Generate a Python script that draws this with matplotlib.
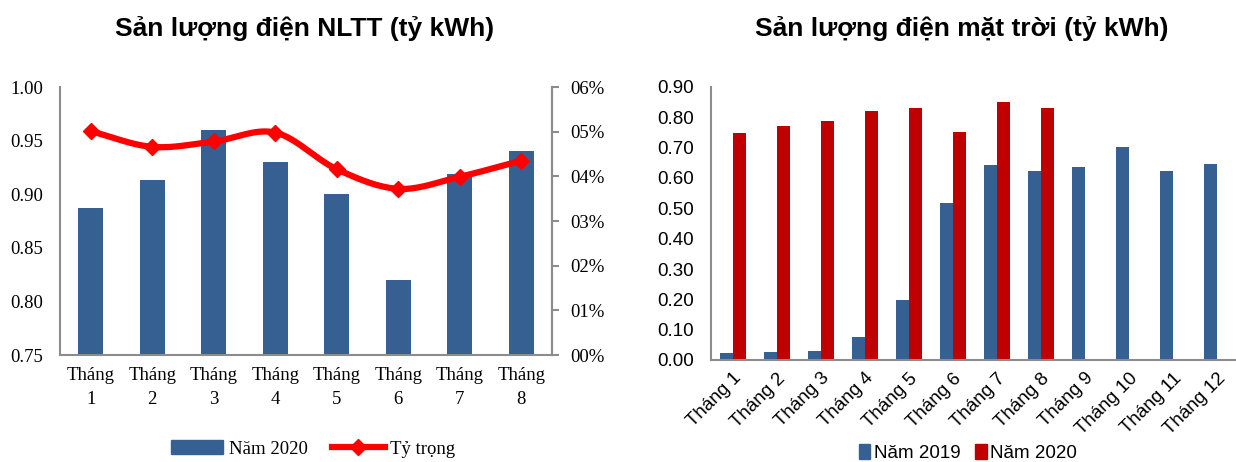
import numpy as np
import matplotlib.pyplot as plt
from matplotlib.lines import Line2D
from matplotlib.patches import Patch

# data
thang_8 = ['Tháng\n1', 'Tháng\n2', 'Tháng\n3', 'Tháng\n4', 'Tháng\n5', 'Tháng\n6', 'Tháng\n7', 'Tháng\n8']
nltt_2020 = [0.887, 0.913, 0.960, 0.930, 0.900, 0.820, 0.919, 0.940]
ty_trong = [5.01, 4.66, 4.78, 4.98, 4.16, 3.72, 3.99, 4.35]

thang_12 = ['Tháng 1', 'Tháng 2', 'Tháng 3', 'Tháng 4', 'Tháng 5', 'Tháng 6',
            'Tháng 7', 'Tháng 8', 'Tháng 9', 'Tháng 10', 'Tháng 11', 'Tháng 12']
mt_2019 = [0.022, 0.026, 0.031, 0.077, 0.199, 0.519, 0.642, 0.623, 0.635, 0.703, 0.624, 0.645]
mt_2020 = [0.749, 0.773, 0.788, 0.820, 0.831, 0.750, 0.851, 0.831]

blue = '#376092'
red_bar = '#C00000'
grey = '#8c8c8c'
serif = 'Liberation Serif'
sans = 'Liberation Sans'


def smooth(x, y, n=20):
    # catmull-rom style smoothing like excel smoothed lines
    x = np.asarray(x, float); y = np.asarray(y, float)
    px = np.concatenate([[2*x[0]-x[1]], x, [2*x[-1]-x[-2]]])
    py = np.concatenate([[2*y[0]-y[1]], y, [2*y[-1]-y[-2]]])
    xs, ys = [], []
    t = np.linspace(0, 1, n)
    for i in range(1, len(px)-2):
        for arr, out in ((px, xs), (py, ys)):
            p0, p1, p2, p3 = arr[i-1], arr[i], arr[i+1], arr[i+2]
            out.extend(0.5*((2*p1) + (-p0+p2)*t + (2*p0-5*p1+4*p2-p3)*t**2 + (-p0+3*p1-3*p2+p3)*t**3))
    return np.array(xs), np.array(ys)


fig = plt.figure(figsize=(12.36, 4.62), dpi=100)

# ---- left chart
ax1 = fig.add_axes([60/1236, 1-355/462, 492/1236, 268/462])
x = np.arange(len(nltt_2020))
ax1.bar(x, np.array(nltt_2020) - 0.75, bottom=0.75, width=0.4, color=blue, zorder=2)
ax1.set_xlim(-0.5, 7.5)
ax1.set_ylim(0.75, 1.00)
ax1.set_yticks(np.arange(0.75, 1.001, 0.05))
ax1.set_yticklabels([f'{v:.2f}' for v in np.arange(0.75, 1.001, 0.05)],
                    fontfamily=serif, fontsize=13.5)
ax1.set_xticks(x)
ax1.set_xticklabels(thang_8, fontfamily=serif, fontsize=13.5)
for lab in ax1.get_xticklabels():
    lab.set_linespacing(1.5)
ax1.tick_params(axis='x', length=0, pad=9)
ax1.tick_params(axis='y', length=0, pad=12)
ax1.spines['top'].set_visible(False)
for s in ['left', 'bottom', 'right']:
    ax1.spines[s].set_color(grey)
    ax1.spines[s].set_linewidth(1.5)

ax2 = ax1.twinx()
sx, sy = smooth(x, ty_trong)
ax2.plot(sx, sy, color='#FF0000', lw=4.5, zorder=3, solid_capstyle='round')
ax2.plot(x, ty_trong, ls='none', marker='D', ms=8, color='#FF0000', zorder=4)
ax2.set_ylim(0, 6)
ax2.set_yticks(range(7))
ax2.set_yticklabels([f'{v:02d}%' for v in range(7)], fontfamily=serif, fontsize=13.5)
ax2.tick_params(axis='y', length=5, color=grey, width=1.5, pad=8)
for s in ['top', 'left', 'bottom']:
    ax2.spines[s].set_visible(False)
ax2.spines['right'].set_color(grey)
ax2.spines['right'].set_linewidth(1.5)

fig.text(305/1236, 1-29/462, 'Sản lượng điện NLTT (tỷ kWh)', ha='center', va='center',
         fontfamily=sans, fontsize=19, fontweight='bold')

h1 = [Patch(color=blue),
      Line2D([], [], color='#FF0000', lw=4.5, marker='D', ms=8)]
fig.legend(h1, ['Năm 2020', 'Tỷ trọng'], loc='center', bbox_to_anchor=(313/1236, 1-449/462),
           ncol=2, frameon=False, prop={'family': serif, 'size': 13.5},
           handlelength=2.8, columnspacing=1.3, handletextpad=0.3)

# ---- right chart
ax3 = fig.add_axes([711/1236, 1-360/462, 528/1236, 273/462])
x12 = np.arange(len(mt_2019))
x8 = np.arange(len(mt_2020))
bw = 0.286
ax3.bar(x12 - bw/2, mt_2019, width=bw, color=blue, zorder=2)
ax3.bar(x8 + bw/2, mt_2020, width=bw, color=red_bar, zorder=2)
ax3.set_xlim(-0.5, 11.5)
ax3.set_ylim(0, 0.9)
yt = np.arange(0, 0.901, 0.1)
ax3.set_yticks(yt)
ax3.set_yticklabels([f'{v:.2f}' for v in yt], fontfamily=sans, fontsize=13.5)
ax3.set_xticks(x12)
ax3.set_xticklabels(thang_12, rotation=45, ha='right', rotation_mode='anchor',
                    fontfamily=sans, fontsize=13.5)
ax3.tick_params(axis='y', length=0, pad=12)
ax3.tick_params(axis='x', length=0, pad=7)
for s in ['top', 'right']:
    ax3.spines[s].set_visible(False)
for s in ['left', 'bottom']:
    ax3.spines[s].set_color(grey)
    ax3.spines[s].set_linewidth(1.5)

fig.text(962/1236, 1-29/462, 'Sản lượng điện mặt trời (tỷ kWh)', ha='center', va='center',
         fontfamily=sans, fontsize=19, fontweight='bold')

h2 = [Patch(color=blue), Patch(color=red_bar)]
fig.legend(h2, ['Năm 2019', 'Năm 2020'], loc='center', bbox_to_anchor=(968/1236, 1-453/462),
           ncol=2, frameon=False, prop={'family': sans, 'size': 13.5},
           handlelength=0.6, handleheight=0.8, columnspacing=0.8, handletextpad=0.2)

fig.savefig('out.png', dpi=100)
